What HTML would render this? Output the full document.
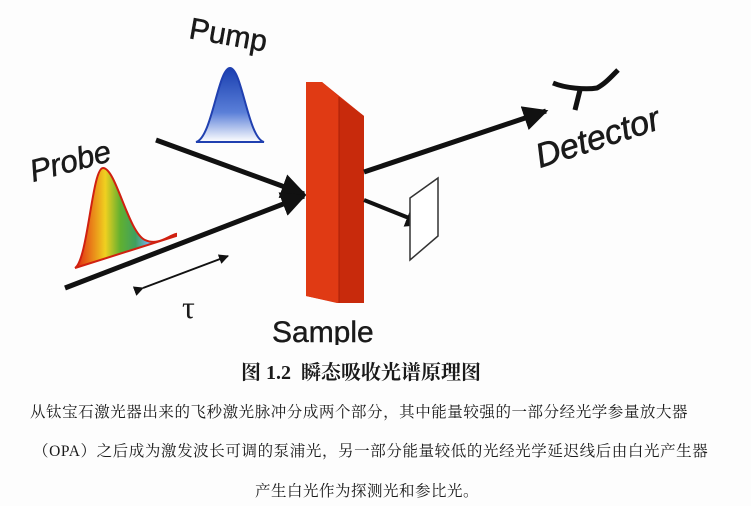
<!DOCTYPE html>
<html><head><meta charset="utf-8"><style>
html,body{margin:0;padding:0;background:#fff;}
#wrap{position:relative;width:751px;height:506px;overflow:hidden;background:#fdfdfd;}
svg{position:absolute;left:0;top:0;}
.t{position:absolute;white-space:nowrap;font-family:"Liberation Serif","Noto Serif CJK SC","Noto Sans CJK SC",serif;color:#1a1a1a;}
</style></head><body>
<div id="wrap">
<svg width="751" height="345" viewBox="0 0 751 345">
<defs>
<linearGradient id="blue" x1="0" y1="0" x2="0" y2="1">
<stop offset="0" stop-color="#1a3fb0"/><stop offset="0.6" stop-color="#5a7fd8"/><stop offset="1" stop-color="#ffffff"/></linearGradient>
<linearGradient id="rainbow" x1="0" y1="0" x2="1" y2="0">
<stop offset="0" stop-color="#e02010"/><stop offset="0.3" stop-color="#f0d020"/><stop offset="0.45" stop-color="#60b030"/><stop offset="0.6" stop-color="#40a060"/><stop offset="0.72" stop-color="#70b0e0"/><stop offset="0.85" stop-color="#6050c0"/><stop offset="1" stop-color="#e03020"/></linearGradient>
<marker id="ah" viewBox="0 0 10 10" refX="9" refY="5" markerWidth="5" markerHeight="5" orient="auto"><path d="M0,0 L10,5 L0,10 z" fill="#111"/></marker>
</defs>
<g>
<path d="M196,142 C212,138 218,68 230,68 C242,68 248,138 264,142 Z" fill="url(#blue)" stroke="#2040b0" stroke-width="2"/>
</g>
<g>
<path d="M75,268 C88,260 92,168 103,168 C116,168 128,232 145,240 C158,246 168,236 176,234 L176,236 Z" fill="url(#rainbow)" stroke="#d02010" stroke-width="2"/>
</g>
<line x1="156" y1="140" x2="304" y2="194" stroke="#111" stroke-width="5" marker-end="url(#ah)"/>
<line x1="65" y1="288" x2="304" y2="196" stroke="#111" stroke-width="5" marker-end="url(#ah)"/>
<line x1="143" y1="288" x2="228" y2="256" stroke="#111" stroke-width="2" marker-end="url(#ah)" marker-start="url(#ah)"/>
<g>
<polygon points="306,82 322,82 364,116 364,303 337,303 306,296" fill="#d83010"/>
<polygon points="306,82 322,82 339,97 339,303 306,296" fill="#e03a14"/>
<polygon points="339,97 364,116 364,303 339,303" fill="#c82a0c"/>
<line x1="339" y1="97" x2="339" y2="303" stroke="#a82008" stroke-width="1"/>
</g>
<line x1="364" y1="172" x2="546" y2="111" stroke="#111" stroke-width="5" marker-end="url(#ah)"/>
<line x1="364" y1="200" x2="424" y2="224" stroke="#111" stroke-width="4" marker-end="url(#ah)"/>
<polygon points="410,198 438,178 438,236 410,260" fill="#fff" stroke="#333" stroke-width="1.5"/>
<g stroke="#111" stroke-width="5" fill="none">
<path d="M553,83 C565,88 585,90 597,88 C605,84 612,76 618,70"/>
<path d="M580,90 L575,110"/>
</g>
<text transform="translate(188,38) rotate(10)" font-family="Liberation Sans" font-size="30" fill="#1a1a1a" stroke="#1a1a1a" stroke-width="0.5">Pump</text>
<text transform="translate(33,182) rotate(-15)" font-family="Liberation Sans" font-size="31" font-style="italic" fill="#1a1a1a" stroke="#1a1a1a" stroke-width="0.5">Probe</text>
<text transform="translate(540,168) rotate(-18)" font-family="Liberation Sans" font-size="34" font-style="italic" fill="#1a1a1a" stroke="#1a1a1a" stroke-width="0.6">Detector</text>
<text x="182" y="318" font-family="Liberation Serif" font-size="32" fill="#1a1a1a">τ</text>
<text x="272" y="342" font-family="Liberation Sans" font-size="30" fill="#1a1a1a" stroke="#1a1a1a" stroke-width="0.4">Sample</text>
</svg>
<div class="t" style="left:241px;top:356px;font-size:20px;font-weight:bold;">图 1.2&nbsp;&nbsp;瞬态吸收光谱原理图</div>
<div class="t" style="left:30px;top:400px;font-size:15.5px;letter-spacing:0.55px;">从钛宝石激光器出来的飞秒激光脉冲分成两个部分，其中能量较强的一部分经光学参量放大器</div>
<div class="t" style="left:33px;top:439px;font-size:15.5px;letter-spacing:0.6px;">（OPA）之后成为激发波长可调的泵浦光，另一部分能量较低的光经光学延迟线后由白光产生器</div>
<div class="t" style="left:255px;top:479px;font-size:15.5px;letter-spacing:0.5px;">产生白光作为探测光和参比光。</div>
</div>
</body></html>
